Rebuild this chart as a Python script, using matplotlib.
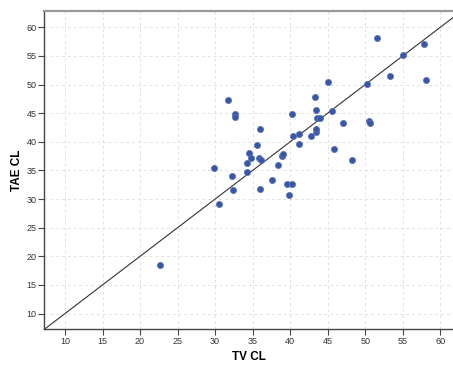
import matplotlib
matplotlib.use("Agg")
import matplotlib.pyplot as plt

tv_cl = [22.6, 29.8, 30.5, 31.7, 32.7, 32.6, 32.2, 32.4, 34.2, 34.3, 34.5, 34.8,
         35.6, 35.9, 36.1, 36.0, 36.0, 37.6, 38.4, 38.9, 39.1, 39.6, 40.3, 39.9,
         40.2, 40.4, 41.2, 41.2, 42.8, 43.5, 43.5, 43.3, 43.4, 43.6, 44.0, 45.6,
         45.0, 45.8, 47.0, 48.3, 50.3, 50.5, 50.7, 51.6, 53.3, 55.1, 57.9, 58.1]
tae_cl = [18.5, 35.5, 29.2, 47.3, 44.8, 44.4, 34.0, 31.6, 34.8, 36.3, 38.1, 37.2,
          39.4, 37.2, 36.9, 42.3, 31.7, 33.3, 36.0, 37.6, 37.85, 32.7, 32.7, 30.7,
          44.8, 41.0, 41.3, 39.6, 41.1, 41.8, 42.2, 47.8, 45.6, 44.1, 44.1, 45.4,
          50.4, 38.7, 43.3, 36.9, 50.1, 43.6, 43.3, 58.1, 51.5, 55.2, 57.0, 50.8]
ticks = [10, 15, 20, 25, 30, 35, 40, 45, 50, 55, 60]
xlim = (7.2, 61.7)
ylim = (7.3, 62.85)

plt.rcParams['font.family'] = ['Liberation Sans', 'DejaVu Sans']
fig = plt.figure(figsize=(4.53, 3.67), dpi=100)
ax = fig.add_axes([44/453, 1-329/367, 409/453, 318/367])

ax.set_xlim(*xlim)
ax.set_ylim(*ylim)
ax.set_xticks(ticks)
ax.set_yticks(ticks)
ax.grid(True, color='#e2e2e2', linestyle=(0, (3, 3)), linewidth=0.7)
ax.set_axisbelow(True)

lo = min(xlim[0], ylim[0])
hi = max(xlim[1], ylim[1])
ax.plot([lo, hi], [lo, hi], color='#333333', linewidth=0.8, zorder=2)

ax.scatter(tv_cl, tae_cl, s=20, color='#3a56a6', edgecolors='#5a74b8',
           linewidths=0.5, zorder=3)

for side in ['left', 'bottom']:
    ax.spines[side].set_color('#444444')
    ax.spines[side].set_linewidth(1.0)
ax.spines['top'].set_color('#999999')
ax.spines['top'].set_linewidth(1.6)
ax.spines['right'].set_visible(False)

ax.tick_params(axis='both', direction='out', length=4, width=0.8,
               color='#444444', labelsize=6.5, labelcolor='#333333', pad=1.5)
ax.set_xlabel('TV CL', fontsize=8.5, fontweight='bold', labelpad=4)
ax.set_ylabel('TAE CL', fontsize=8.5, fontweight='bold', labelpad=2)

fig.savefig('out.png', dpi=100)
